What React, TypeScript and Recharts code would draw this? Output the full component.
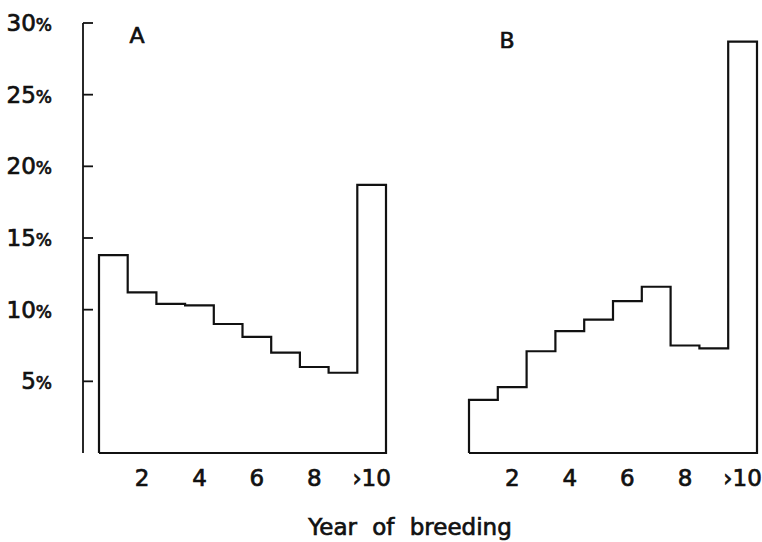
import React from "react";
import { LineChart, Line, XAxis, YAxis } from "recharts";

const years = [1, 2, 3, 4, 5, 6, 7, 8, 9, 10];
const panelA = [13.8, 11.2, 10.4, 10.3, 9.0, 8.1, 7.0, 6.0, 5.6, 18.7];
const panelB = [3.7, 4.6, 7.1, 8.5, 9.3, 10.6, 11.6, 7.5, 7.3, 28.7];
const xTicks = [2, 4, 6, 8, 10];
const xTickLabels = ["2", "4", "6", "8", "›10"];
const yTicks = [5, 10, 15, 20, 25, 30];

const font = "'DejaVu Sans', sans-serif";
const ink = "#111";
// scanned print looks a little heavier than the regular weight
const heavy = { stroke: ink, strokeWidth: 0.7 };

// histogram outline: points at bin edges, closed along the baseline
const outline = (values: number[]) => {
  const last = years.length - 1;
  const pts = [{ x: years[0] - 0.5, v: 0 }];
  values.forEach((v, i) => pts.push({ x: years[i] - 0.5, v }));
  pts.push({ x: years[last] + 0.5, v: values[last] });
  pts.push({ x: years[last] + 0.5, v: 0 });
  pts.push({ x: years[0] - 0.5, v: 0 });
  return pts;
};

const XTick = ({ x, y, payload }: any) => {
  const i = xTicks.indexOf(payload.value);
  return (
    <text x={x} y={y + 33} textAnchor="middle" fontFamily={font} fontSize={23} fill={ink} {...heavy}>
      {xTickLabels[i]}
    </text>
  );
};

const YTick = ({ x, y, payload }: any) => (
  <g>
    <line x1={x} x2={x + 10} y1={y} y2={y} stroke={ink} strokeWidth={1.8} />
    <text x={x - 31} y={y + 8} textAnchor="end" fontFamily={font} fontSize={23} fill={ink} {...heavy}>
      {payload.value}
      <tspan fontSize={17}>%</tspan>
    </text>
  </g>
);

const Panel = ({ values, showY }: { values: number[]; showY: boolean }) => (
  <LineChart
    width={showY ? 400 : 322}
    height={542}
    data={outline(values)}
    margin={showY ? { top: 23, right: 14, left: 0, bottom: 59 } : { top: 23, right: 5, left: 29, bottom: 59 }}
  >
    <XAxis
      dataKey="x"
      type="number"
      domain={[0.5, 10.5]}
      ticks={xTicks}
      height={30}
      padding={showY ? { left: 16, right: 0 } : { left: 0, right: 0 }}
      axisLine={false}
      tickLine={false}
      tickSize={0}
      tickMargin={0}
      tick={<XTick />}
      interval={0}
    />
    <YAxis
      hide={!showY}
      width={83}
      domain={[0, 30]}
      ticks={yTicks}
      axisLine={{ stroke: ink, strokeWidth: 1.8 }}
      tickLine={false}
      tickSize={0}
      tickMargin={0}
      tick={<YTick />}
      interval={0}
    />
    <Line
      type="stepAfter"
      dataKey="v"
      stroke={ink}
      strokeWidth={2.2}
      dot={false}
      activeDot={false}
      isAnimationActive={false}
    />
  </LineChart>
);

export default function App() {
  return (
    <div style={{ position: "absolute", left: 0, top: 0, width: 762, height: 542, background: "#fff" }}>
      <div style={{ position: "absolute", left: 0, top: 0 }}>
        <Panel values={panelA} showY={true} />
      </div>
      <div style={{ position: "absolute", left: 440, top: 0 }}>
        <Panel values={panelB} showY={false} />
      </div>
      <svg
        width={762}
        height={542}
        style={{ position: "absolute", left: 0, top: 0, pointerEvents: "none" }}
      >
        <text x={137} y={43} textAnchor="middle" fontFamily={font} fontSize={22} fill={ink} {...heavy}>
          A
        </text>
        <text x={507} y={48} textAnchor="middle" fontFamily={font} fontSize={22} fill={ink} {...heavy}>
          B
        </text>
        <text x={410} y={535} textAnchor="middle" fontFamily={font} fontSize={23} wordSpacing={8} fill={ink} {...heavy}>
          Year of breeding
        </text>
      </svg>
    </div>
  );
}
